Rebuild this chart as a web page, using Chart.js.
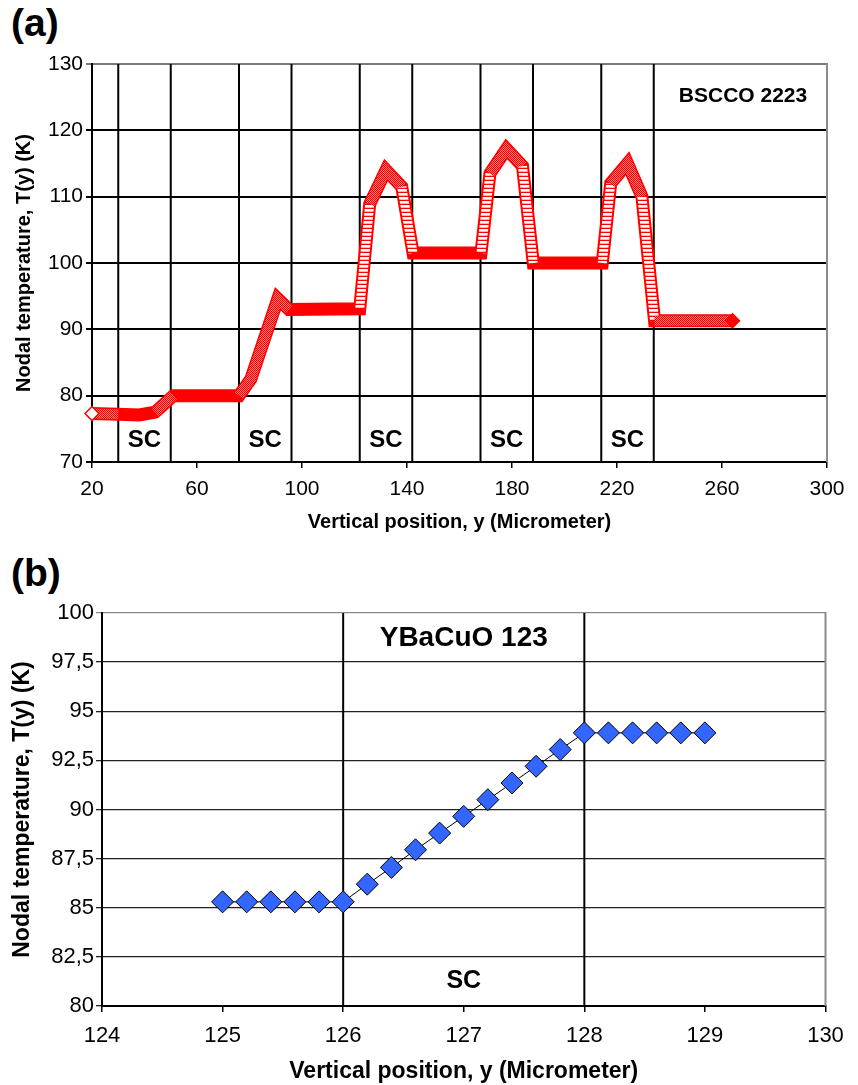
<!DOCTYPE html>
<html>
<head>
<meta charset="utf-8">
<script src="https://cdn.jsdelivr.net/npm/chart.js@4.4.1/dist/chart.umd.min.js"></script>
<style>
  html, body { margin: 0; padding: 0; background: #fff; }
  body { width: 858px; height: 1085px; position: relative; overflow: hidden;
         font-family: "Liberation Sans", Arial, sans-serif; }
  .panel { position: absolute; left: 0; width: 858px; }
  #wa { top: 0; height: 545px; }
  #wb { top: 545px; height: 540px; }
  .tag { position: absolute; left: 11px; font-weight: bold; font-size: 39px; line-height: 1; color: #000; }
</style>
</head>
<body>
<div class="tag" style="top:3px">(a)</div>
<div class="tag" style="top:553px">(b)</div>
<div id="wa" class="panel"><canvas id="ca"></canvas></div>
<div id="wb" class="panel"><canvas id="cb"></canvas></div>
<script>
// ---- (a) BSCCO 2223: nodal temperature along the stack ----
const posA  = [20, 30, 38, 44, 51, 76, 80.5, 90.8, 95, 122, 125.8, 132, 138, 142.3,
               168.2, 171.6, 177.9, 184, 188.1, 214.4, 217.6, 224, 229.5, 234.3, 264];
const tempA = [77.3, 77.2, 77.1, 77.5, 80.0, 80.0, 82.5, 94.6, 93.0, 93.1, 108.9, 114.0, 111.5, 101.5,
               101.5, 113.5, 117.2, 114.6, 100.0, 100.0, 112.0, 115.0, 110.0, 91.3, 91.3];
const scBoundsA = [30, 50, 76, 96, 122, 142, 168, 188, 214, 234];
const xTicksA = [20, 60, 100, 140, 180, 220, 260, 300];
const yTicksA = [70, 80, 90, 100, 110, 120, 130];

// ---- (b) YBaCuO 123: nodal temperature across one SC layer ----
const posB  = [125, 125.2, 125.4, 125.6, 125.8, 126, 126.2, 126.4, 126.6, 126.8, 127,
               127.2, 127.4, 127.6, 127.8, 128, 128.2, 128.4, 128.6, 128.8, 129];
const tempB = [85.3, 85.3, 85.3, 85.3, 85.3, 85.3, 86.2, 87.05, 87.95, 88.8, 89.65,
               90.5, 91.35, 92.2, 93.05, 93.9, 93.9, 93.9, 93.9, 93.9, 93.9];
const scBoundsB = [126, 128];
const xTicksB = [124, 125, 126, 127, 128, 129, 130];
const yTicksB = [80, 82.5, 85, 87.5, 90, 92.5, 95, 97.5, 100];

Chart.defaults.font.family = '"Liberation Sans", Arial, sans-serif';
Chart.defaults.color = '#000';

// small repeating fills used to texture the thick profile band
function tilePattern(rows) {
  const c = document.createElement('canvas');
  c.width = rows[0].length; c.height = rows.length;
  const g = c.getContext('2d');
  rows.forEach((row, j) => row.forEach((col, i) => { g.fillStyle = col; g.fillRect(i, j, 1, 1); }));
  return g.createPattern(c, 'repeat');
}
const RED = '#ff0000';
const stripes = tilePattern([[RED], ['#ffffff'], ['#ffffff'], ['#ffb0b0']]);
const hatch = tilePattern([[RED, '#ff8080'], ['#ff8080', RED]]);

const lastA = posA.length - 1;
function segKind(c) {
  const dx = Math.abs(c.p1.x - c.p0.x), dy = Math.abs(c.p1.y - c.p0.y);
  if (dy > 5 * dx) return 'steep';
  if (dy > 0.8 * dx || c.p0DataIndex === 0 || c.p1DataIndex === lastA) return 'hatch';
  return 'solid';
}

// boundary lines, right frame and in-plot annotations
const decor = {
  id: 'decor',
  beforeDatasetsDraw(chart, args, o) {
    const { ctx, chartArea: a, scales: { x } } = chart;
    ctx.save();
    ctx.strokeStyle = '#000';
    ctx.lineWidth = o.boundWidth;
    o.bounds.forEach(v => {
      const px = x.getPixelForValue(v);
      ctx.beginPath(); ctx.moveTo(px, a.top); ctx.lineTo(px, a.bottom); ctx.stroke();
    });
    ctx.strokeStyle = o.frameColor;
    ctx.lineWidth = 2;
    ctx.beginPath(); ctx.moveTo(a.right, a.top - 1); ctx.lineTo(a.right, a.bottom); ctx.stroke();
    ctx.restore();
  },
  afterDatasetsDraw(chart, args, o) {
    const { ctx, scales: { x, y } } = chart;
    ctx.save();
    ctx.fillStyle = '#000';
    ctx.textAlign = 'center';
    ctx.textBaseline = 'middle';
    o.texts.forEach(t => {
      ctx.font = 'bold ' + t.size + 'px "Liberation Sans", Arial, sans-serif';
      ctx.fillText(t.text, x.getPixelForValue(t.x), y.getPixelForValue(t.y));
    });
    ctx.restore();
  }
};

function scLabels(bounds, yv, size) {
  const out = [];
  for (let i = 0; i + 1 < bounds.length; i += 2) {
    out.push({ text: 'SC', x: (bounds[i] + bounds[i + 1]) / 2, y: yv, size });
  }
  return out;
}
const fixTicks = arr => s => { s.ticks = arr.map(v => ({ value: v })); };

// ---------- chart (a) ----------
const ptsA = posA.map((x, i) => ({ x, y: tempA[i] }));
new Chart(document.getElementById('ca'), {
  type: 'line',
  data: {
    datasets: [
      {
        // textured core of the band, with end markers
        data: ptsA,
        clip: false,
        tension: 0,
        borderColor: 'rgba(0,0,0,0)',
        borderCapStyle: 'butt',
        borderJoinStyle: 'miter',
        segment: {
          borderColor: c => { const k = segKind(c); return k === 'steep' ? stripes : k === 'hatch' ? hatch : 'rgba(0,0,0,0)'; },
          borderWidth: c => segKind(c) === 'steep' ? 9 : 10
        },
        pointStyle: 'rectRot',
        pointRadius: c => (c.dataIndex === 0 || c.dataIndex === lastA) ? 7 : 0,
        pointBackgroundColor: c => c.dataIndex === 0 ? '#ffffff' : RED,
        pointBorderColor: RED,
        pointBorderWidth: 1.5
      },
      {
        // solid red band
        data: ptsA,
        clip: false,
        tension: 0,
        borderColor: RED,
        borderWidth: 13,
        borderCapStyle: 'butt',
        borderJoinStyle: 'miter',
        pointRadius: 0
      }
    ]
  },
  options: {
    responsive: true,
    maintainAspectRatio: false,
    animation: false,
    events: [],
    layout: { padding: { top: 64, right: 31, left: 0, bottom: 0 } },
    plugins: {
      legend: { display: false },
      tooltip: { enabled: false },
      decor: {
        bounds: scBoundsA,
        boundWidth: 2,
        frameColor: '#8c8c8c',
        texts: scLabels(scBoundsA, 73.3, 24).concat([{ text: 'BSCCO 2223', x: 268, y: 125.2, size: 21 }])
      }
    },
    scales: {
      x: {
        type: 'linear', min: 20, max: 300,
        afterBuildTicks: fixTicks(xTicksA),
        afterFit: s => { s.height = 83; },
        grid: { drawOnChartArea: false, drawTicks: true, tickLength: 6, color: '#000', lineWidth: 1.5 },
        border: { color: '#000', width: 2 },
        ticks: { font: { size: 21 }, color: '#000', padding: 9, maxRotation: 0 },
        title: { display: true, text: 'Vertical position, y (Micrometer)', color: '#000',
                 font: { size: 20, weight: 'bold' }, padding: { top: 0, bottom: 11 } }
      },
      y: {
        type: 'linear', min: 70, max: 130,
        afterBuildTicks: fixTicks(yTicksA),
        afterFit: s => { s.width = 92; },
        grid: { color: c => (c.tick && c.tick.value === 130) ? '#7a7a7a' : '#000', lineWidth: 2, tickLength: 6 },
        border: { color: '#000', width: 2 },
        ticks: { font: { size: 21 }, color: '#000', padding: 3 },
        title: { display: true, text: 'Nodal temperature, T(y) (K)', color: '#000',
                 font: { size: 20, weight: 'bold' }, padding: { top: 12, bottom: 0 } }
      }
    }
  },
  plugins: [decor]
});

// ---------- chart (b) ----------
new Chart(document.getElementById('cb'), {
  type: 'line',
  data: {
    datasets: [{
      data: posB.map((x, i) => ({ x, y: tempB[i] })),
      tension: 0,
      borderColor: '#000',
      borderWidth: 1,
      pointStyle: 'rectRot',
      pointRadius: 11,
      pointBackgroundColor: '#3366ff',
      pointBorderColor: '#000',
      pointBorderWidth: 1
    }]
  },
  options: {
    responsive: true,
    maintainAspectRatio: false,
    animation: false,
    events: [],
    layout: { padding: { top: 68, right: 32.5, left: 0, bottom: 0 } },
    plugins: {
      legend: { display: false },
      tooltip: { enabled: false },
      decor: {
        bounds: scBoundsB,
        boundWidth: 2,
        frameColor: '#8c8c8c',
        texts: scLabels(scBoundsB, 81.27, 25).concat([{ text: 'YBaCuO 123', x: 127.0, y: 98.7, size: 28 }])
      }
    },
    scales: {
      x: {
        type: 'linear', min: 124, max: 130,
        afterBuildTicks: fixTicks(xTicksB),
        afterFit: s => { s.height = 79; },
        grid: { drawOnChartArea: false, drawTicks: true, tickLength: 6, color: '#000', lineWidth: 1.5 },
        border: { color: '#000', width: 2 },
        ticks: { font: { size: 22 }, color: '#000', padding: 11, maxRotation: 0 },
        title: { display: true, text: 'Vertical position, y (Micrometer)', color: '#000',
                 font: { size: 23, weight: 'bold' }, padding: { top: 0, bottom: 0 } }
      },
      y: {
        type: 'linear', min: 80, max: 100,
        afterBuildTicks: fixTicks(yTicksB),
        afterFit: s => { s.width = 102; },
        grid: { color: c => (c.tick && c.tick.value === 100) ? '#8a8a8a' : '#222', lineWidth: 1.3, tickLength: 6 },
        border: { color: '#000', width: 2 },
        ticks: { font: { size: 22 }, color: '#000', padding: 2,
                 callback: v => String(v).replace('.', ',') },
        title: { display: true, text: 'Nodal temperature, T(y) (K)', color: '#000',
                 font: { size: 23, weight: 'bold' }, padding: { top: 9, bottom: 0 } }
      }
    }
  },
  plugins: [decor]
});
</script>
</body>
</html>
